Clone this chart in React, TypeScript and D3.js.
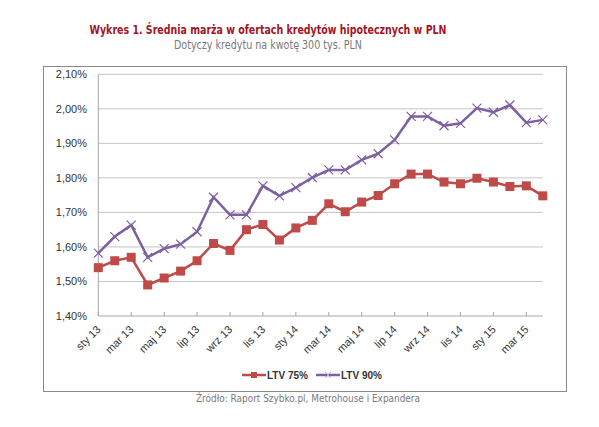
import * as d3 from 'd3'

const months = [
  'sty 13', 'lut 13', 'mar 13', 'kwi 13', 'maj 13', 'cze 13', 'lip 13', 'sie 13', 'wrz 13', 'paź 13', 'lis 13', 'gru 13',
  'sty 14', 'lut 14', 'mar 14', 'kwi 14', 'maj 14', 'cze 14', 'lip 14', 'sie 14', 'wrz 14', 'paź 14', 'lis 14', 'gru 14',
  'sty 15', 'lut 15', 'mar 15', 'kwi 15',
]

const ltv75 = [
  1.54, 1.56, 1.57, 1.49, 1.51, 1.53, 1.56, 1.61, 1.59, 1.65, 1.665, 1.62, 1.655, 1.677,
  1.725, 1.702, 1.73, 1.749, 1.783, 1.811, 1.811, 1.788, 1.783, 1.799, 1.788, 1.775, 1.777, 1.748,
]

const ltv90 = [
  1.582, 1.63, 1.663, 1.57, 1.595, 1.608, 1.644, 1.744, 1.693, 1.693, 1.777, 1.748, 1.772, 1.801,
  1.823, 1.823, 1.852, 1.87, 1.91, 1.978, 1.978, 1.951, 1.958, 2.002, 1.99, 2.011, 1.96, 1.968,
]

const yTicks = [1.4, 1.5, 1.6, 1.7, 1.8, 1.9, 2.0, 2.1]

const title = 'Wykres 1. Średnia marża w ofertach kredytów hipotecznych w PLN'
const subtitle = 'Dotyczy kredytu na kwotę 300 tys. PLN'
const source = 'Źródło: Raport Szybko.pl, Metrohouse i Expandera'

const RED = '#be4b48'
const PURPLE = '#7d60a0'

export default function App() {
  const width = 599
  const height = 427
  const plot = { left: 98.3, right: 542.8, top: 74.3, bottom: 316 }

  const x = d3
    .scalePoint<number>()
    .domain(months.map((_, i) => i))
    .range([plot.left, plot.right])

  const y = d3.scaleLinear().domain([1.4, 2.1]).range([plot.bottom, plot.top])

  const line = d3
    .line<number>()
    .x((_, i) => x(i) ?? 0)
    .y((d) => y(d))

  const fmt = (v: number) => d3.format('.2f')(v).replace('.', ',') + '%'

  // labels only on every second month, like the original
  const labelIdx = months.map((_, i) => i).filter((i) => i % 2 === 0)

  return (
    <div style={{ position: 'fixed', left: 0, top: 0 }}>
      <svg width={width} height={height} style={{ display: 'block', background: '#fff' }}>
        <text
          x={268}
          y={34}
          textAnchor="middle"
          fontFamily="DejaVu Sans, Verdana, sans-serif"
          fontWeight="bold"
          fontSize={12}
          fill="#a3141f"
          textLength={357}
          lengthAdjust="spacingAndGlyphs"
        >
          {title}
        </text>
        <text
          x={268}
          y={49}
          textAnchor="middle"
          fontFamily="DejaVu Sans, Verdana, sans-serif"
          fontSize={12}
          fill="#7a7a7a"
          textLength={188}
          lengthAdjust="spacingAndGlyphs"
        >
          {subtitle}
        </text>

        <rect x={43.5} y={66.5} width={523} height={325} fill="#fff" stroke="#8a8a8a" strokeWidth={1} />

        {yTicks.map((t) => (
          <g key={t}>
            <line
              x1={plot.left}
              x2={plot.right}
              y1={y(t)}
              y2={y(t)}
              stroke={t === 1.4 ? '#a6a6a6' : '#c4c4c4'}
              strokeWidth={1}
            />
            <text
              x={87}
              y={y(t) + 4}
              textAnchor="end"
              fontFamily="Liberation Sans, Arial, sans-serif"
              fontSize={11}
              fill="#333"
            >
              {fmt(t)}
            </text>
          </g>
        ))}

        <line x1={plot.left} x2={plot.left} y1={plot.top} y2={plot.bottom} stroke="#a6a6a6" />

        {labelIdx.map((i) => (
          <g key={i}>
            <line x1={x(i)} x2={x(i)} y1={plot.bottom - 4} y2={plot.bottom} stroke="#a6a6a6" />
            <text
              transform={`translate(${(x(i) ?? 0) + 1}, ${plot.bottom + 12}) rotate(-45)`}
              textAnchor="end"
              dominantBaseline="middle"
              fontFamily="Liberation Sans, Arial, sans-serif"
              fontSize={11}
              fill="#333"
            >
              {months[i]}
            </text>
          </g>
        ))}

        <path d={line(ltv75) ?? ''} fill="none" stroke={RED} strokeWidth={2.5} />
        {ltv75.map((v, i) => (
          <rect key={i} x={(x(i) ?? 0) - 4.5} y={y(v) - 4.5} width={9} height={9} fill={RED} />
        ))}

        <path d={line(ltv90) ?? ''} fill="none" stroke={PURPLE} strokeWidth={2.5} />
        {ltv90.map((v, i) => {
          const cx = x(i) ?? 0
          const cy = y(v)
          return (
            <path
              key={i}
              d={`M${cx - 4.5},${cy - 4.5}L${cx + 4.5},${cy + 4.5}M${cx - 4.5},${cy + 4.5}L${cx + 4.5},${cy - 4.5}`}
              stroke={PURPLE}
              strokeWidth={1.2}
            />
          )
        })}

        <g fontFamily="Liberation Sans, Arial, sans-serif" fontSize={10} fill="#333" fontWeight="bold">
          <line x1={242} x2={266} y1={375} y2={375} stroke={RED} strokeWidth={2.5} />
          <rect x={251} y={372} width={6} height={6} fill={RED} />
          <text x={267} y={378.5}>LTV 75%</text>
          <line x1={316} x2={340} y1={375} y2={375} stroke={PURPLE} strokeWidth={2.5} />
          <path d="M325,372L331,378M325,378L331,372" stroke="#b9a6d4" strokeWidth={1} />
          <text x={341} y={378.5}>LTV 90%</text>
        </g>

        <text
          x={308}
          y={401.5}
          textAnchor="middle"
          fontFamily="DejaVu Sans, Verdana, sans-serif"
          fontSize={10}
          fill="#7a7a7a"
          textLength={224}
          lengthAdjust="spacingAndGlyphs"
        >
          {source}
        </text>
      </svg>
    </div>
  )
}
